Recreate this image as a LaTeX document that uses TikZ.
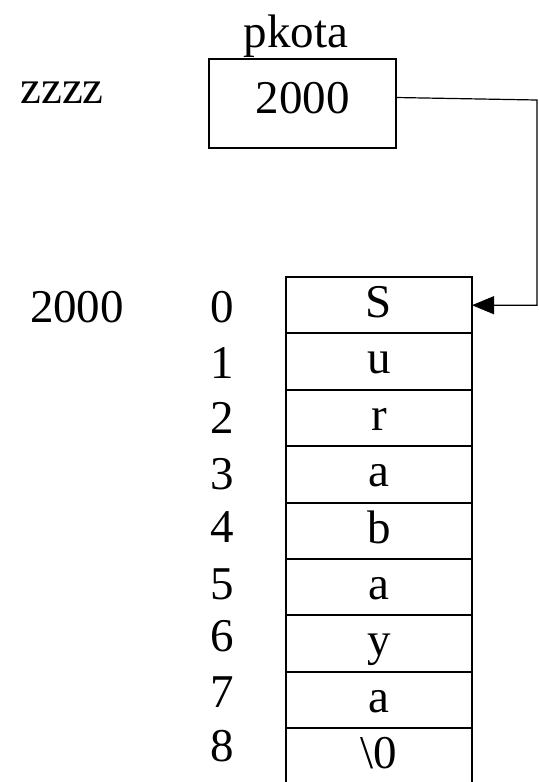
\documentclass[tikz,border=0pt]{standalone}
\usepackage{fontspec}
\setmainfont{Liberation Serif}
\usetikzlibrary{arrows.meta}

\tikzset{
  cell/.style={draw, line width=1pt, minimum width=93pt, minimum height=28.2pt, inner sep=0pt, outer sep=0pt, text height=12.3pt, text depth=0pt},
  ptrbox/.style={draw, line width=0.9pt, minimum width=93.5pt, minimum height=44.5pt, inner sep=0pt, outer sep=0pt, text depth=6pt},
  ptrline/.style={line width=0.6pt, -{Triangle[length=11pt,width=9pt]}}
}

\begin{document}
\begin{tikzpicture}[x=0.5pt, y=-0.5pt, font=\fontsize{23.5}{28}\selectfont]
      \useasboundingbox (0,0) rectangle (539,782);

      \node (zz) at (62, 93) {zzzz};
      \node (name) at (296, 36) {pkota};
      \node[ptrbox] (ptr) at (302.5, 103.5) {2000};
      \node (addr) at (77, 307.5) {2000};

      \node[cell] (c0) at (379, 305.2) {S};
      \node[cell] (c1) at (379, 361.6) {u};
      \node[cell] (c2) at (379, 418.0) {r};
      \node[cell] (c3) at (379, 474.4) {a};
      \node[cell] (c4) at (379, 530.8) {b};
      \node[cell] (c5) at (379, 587.2) {a};
      \node[cell] (c6) at (379, 643.6) {y};
      \node[cell] (c7) at (379, 700.0) {a};
      \node[cell] (c8) at (379, 756.4) {\textbackslash 0};

      \node (i0) at (222, 307.5) {0};
      \node (i1) at (222, 362.5) {1};
      \node (i2) at (222, 417.5) {2};
      \node (i3) at (222, 474.5) {3};
      \node (i4) at (222, 527.5) {4};
      \node (i5) at (222, 584.5) {5};
      \node (i6) at (222, 636.5) {6};
      \node (i7) at (222, 692.5) {7};
      \node (i8) at (222, 746.5) {8};

      \coordinate (bend) at (537, 100);
      \draw[ptrline] ([yshift=3pt]ptr.east) -- (bend) -- (bend |- c0.east) -- (c0.east);
    \end{tikzpicture}
\end{document}
